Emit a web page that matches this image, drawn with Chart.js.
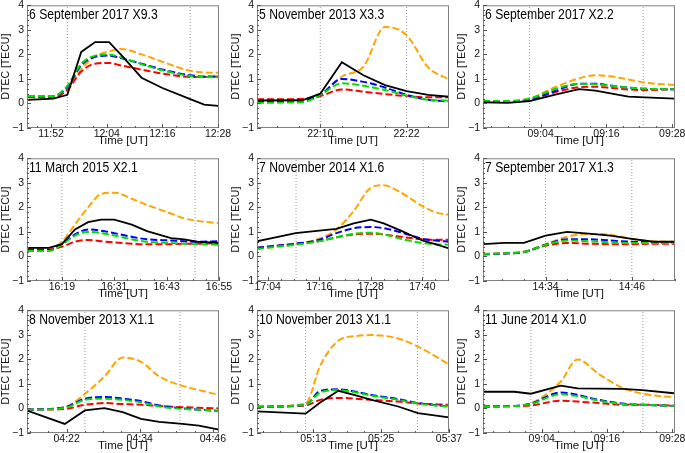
<!DOCTYPE html>
<html>
<head>
<meta charset="utf-8">
<script src="https://cdn.jsdelivr.net/npm/chart.js@4/dist/chart.umd.min.js"></script>
<style>
  html, body { margin: 0; padding: 0; background: #fff; overflow: hidden; }
  #wrap { position: relative; width: 685px; height: 453px; overflow: hidden; }
  canvas { position: absolute; }
</style>
</head>
<body>
<div id="wrap"></div>
<script>
// panel titles, left to right, top to bottom
const titles = [
  '6 September 2017 X9.3', '5 November 2013 X3.3', '6 September 2017 X2.2',
  '11 March 2015 X2.1', '7 November 2014 X1.6', '7 September 2017 X1.3',
  '8 November 2013 X1.1', '10 November 2013 X1.1', '11 June 2014 X1.0'
];

// x range of each panel (UT, minutes may be fractional)
const xMin = ['11:46.8', '22:01.2', '08:53.5', '16:11', '17:01.5', '14:25.3', '04:15.5', '05:03', '08:53.2'];
const xMax = ['12:28.2', '22:27.9', '09:28.5', '16:55', '17:46.2', '14:52', '04:47', '05:37', '09:28.5'];

const tickLabels = [
  ['11:52', '12:04', '12:16', '12:28'],
  ['22:10', '22:22'],
  ['09:04', '09:16', '09:28'],
  ['16:19', '16:31', '16:43', '16:55'],
  ['17:04', '17:16', '17:28', '17:40'],
  ['14:34', '14:46'],
  ['04:22', '04:34', '04:46'],
  ['05:13', '05:25', '05:37'],
  ['09:04', '09:16', '09:28']
];

// dotted vertical markers
const markers = [
  ['11:55.5', '12:22'], ['22:10', '22:22'], ['09:02', '09:22.7'],
  ['16:19', '16:49.5'], ['17:10.6', '17:40.2'], ['14:34', '14:46'],
  ['04:25', '04:40.6'], ['05:11.6', '05:31.4'], ['09:02', '09:22.6']
];

const times = [
  ['11:47', '11:52.5', '11:55.5', '11:58.5', '12:01.5', '12:04.5', '12:07', '12:11.5', '12:16', '12:22', '12:25', '12:28'],
  ['22:01.2', '22:07.5', '22:10', '22:13', '22:16', '22:19', '22:22', '22:25', '22:28'],
  ['08:53.5', '08:58', '09:02', '09:06.5', '09:11', '09:14', '09:17', '09:20', '09:23', '09:28.5'],
  ['16:11', '16:16', '16:19', '16:22', '16:25', '16:28', '16:31', '16:35', '16:38.5', '16:44', '16:47', '16:50', '16:55'],
  ['17:01.5', '17:05', '17:10.5', '17:16', '17:20', '17:24', '17:28', '17:31', '17:35', '17:40', '17:43', '17:46.2'],
  ['14:25.3', '14:28.3', '14:31', '14:34', '14:37', '14:40', '14:43', '14:46', '14:49', '14:52'],
  ['04:15.5', '04:21.7', '04:25', '04:28.2', '04:31.2', '04:34.2', '04:37.2', '04:41', '04:43.7', '04:47'],
  ['05:03', '05:11.6', '05:14.2', '05:17.4', '05:20.5', '05:23.3', '05:28', '05:31.5', '05:37'],
  ['08:53.2', '08:59', '09:02', '09:07.5', '09:10.6', '09:14.5', '09:18.8', '09:22.5', '09:28.3']
];

const black = [
  [0.15, 0.2, 0.35, 2.1, 2.5, 2.5, 2.0, 1.05, 0.63, 0.18, -0.05, -0.1],
  [0.12, 0.13, 0.4, 1.68, 1.15, 0.75, 0.5, 0.35, 0.27],
  [0.05, 0.02, 0.1, 0.35, 0.58, 0.52, 0.4, 0.28, 0.25, 0.2],
  [0.35, 0.35, 0.5, 1.1, 1.4, 1.5, 1.5, 1.3, 1.03, 0.75, 0.7, 0.6, 0.55],
  [0.62, 0.75, 0.95, 1.05, 1.12, 1.35, 1.5, 1.35, 1.05, 0.65, 0.5, 0.33],
  [0.5, 0.55, 0.55, 0.85, 1.0, 0.93, 0.85, 0.72, 0.6, 0.6],
  [-0.09, -0.63, -0.08, 0.01, -0.15, -0.42, -0.55, -0.63, -0.7, -0.86],
  [-0.12, -0.21, 0.24, 0.72, 0.53, 0.35, 0.08, -0.19, -0.36],
  [0.68, 0.68, 0.6, 0.93, 0.82, 0.81, 0.8, 0.75, 0.62]
];

const orange = [
  [0.28, 0.28, 0.62, 1.4, 1.92, 2.12, 2.22, 2.0, 1.7, 1.33, 1.27, 1.25],
  [0.15, 0.17, 0.35, 1.1, 1.5, 3.12, 2.78, 1.47, 0.97],
  [0.1, 0.1, 0.2, 0.65, 1.02, 1.15, 1.1, 0.98, 0.85, 0.75],
  [0.3, 0.3, 0.6, 1.3, 2.0, 2.55, 2.6, 2.35, 2.1, 1.75, 1.55, 1.45, 1.35],
  [0.32, 0.38, 0.5, 0.72, 1.1, 1.85, 2.8, 2.9, 2.6, 2.05, 1.8, 1.7],
  [0.1, 0.13, 0.2, 0.5, 0.8, 0.92, 0.88, 0.72, 0.62, 0.6],
  [-0.05, 0.05, 0.6, 1.3, 2.08, 1.9, 1.3, 0.92, 0.75, 0.55],
  [0.07, 0.2, 1.75, 2.76, 2.95, 2.99, 2.85, 2.52, 1.8],
  [0.1, 0.1, 0.2, 1.1, 2.0, 1.4, 0.85, 0.6, 0.45]
];

const blue = [
  [0.3, 0.3, 0.68, 1.55, 1.9, 1.95, 1.85, 1.62, 1.38, 1.15, 1.1, 1.1],
  [0.1, 0.12, 0.35, 1.0, 0.88, 0.65, 0.35, 0.15, 0.08],
  [0.08, 0.08, 0.15, 0.5, 0.8, 0.8, 0.72, 0.65, 0.6, 0.58],
  [0.25, 0.25, 0.5, 0.9, 1.1, 1.05, 0.95, 0.8, 0.7, 0.65, 0.62, 0.6, 0.62],
  [0.35, 0.42, 0.52, 0.68, 0.95, 1.15, 1.2, 1.15, 0.98, 0.72, 0.65, 0.6],
  [0.08, 0.12, 0.18, 0.48, 0.7, 0.7, 0.65, 0.6, 0.58, 0.58],
  [-0.05, 0.05, 0.4, 0.47, 0.4, 0.3, 0.12, 0.0, -0.05, -0.1],
  [0.07, 0.15, 0.72, 0.78, 0.68, 0.55, 0.38, 0.22, 0.08],
  [0.08, 0.1, 0.2, 0.65, 0.55, 0.35, 0.2, 0.15, 0.1]
];

const green = [
  [0.3, 0.3, 0.72, 1.62, 1.95, 2.0, 1.88, 1.6, 1.35, 1.12, 1.08, 1.07],
  [0.03, 0.05, 0.35, 0.82, 0.72, 0.55, 0.32, 0.15, 0.12],
  [0.1, 0.1, 0.2, 0.58, 0.8, 0.78, 0.72, 0.65, 0.6, 0.58],
  [0.22, 0.22, 0.48, 0.85, 1.0, 0.95, 0.85, 0.7, 0.6, 0.55, 0.52, 0.5, 0.48],
  [0.3, 0.38, 0.48, 0.62, 0.78, 0.92, 0.97, 0.9, 0.72, 0.55, 0.5, 0.48],
  [0.1, 0.13, 0.18, 0.47, 0.65, 0.62, 0.58, 0.55, 0.55, 0.55],
  [-0.05, 0.02, 0.35, 0.4, 0.35, 0.25, 0.08, -0.02, -0.05, -0.1],
  [0.07, 0.15, 0.65, 0.75, 0.65, 0.52, 0.35, 0.2, 0.07],
  [0.08, 0.1, 0.18, 0.58, 0.5, 0.32, 0.18, 0.15, 0.1]
];

const red = [
  [0.25, 0.25, 0.55, 1.3, 1.62, 1.65, 1.55, 1.38, 1.22, 1.08, 1.08, 1.1],
  [0.17, 0.18, 0.3, 0.57, 0.48, 0.38, 0.3, 0.25, 0.25],
  [0.08, 0.08, 0.15, 0.45, 0.66, 0.68, 0.63, 0.57, 0.55, 0.58],
  [0.28, 0.28, 0.4, 0.6, 0.67, 0.62, 0.57, 0.52, 0.5, 0.5, 0.52, 0.52, 0.55],
  [0.35, 0.42, 0.52, 0.63, 0.78, 0.9, 0.93, 0.9, 0.8, 0.7, 0.68, 0.68],
  [0.1, 0.12, 0.18, 0.44, 0.55, 0.52, 0.5, 0.5, 0.52, 0.52],
  [-0.05, -0.02, 0.15, 0.22, 0.18, 0.15, 0.1, 0.05, 0.03, 0.0],
  [0.07, 0.12, 0.35, 0.43, 0.4, 0.35, 0.28, 0.2, 0.15],
  [0.08, 0.1, 0.12, 0.32, 0.28, 0.22, 0.15, 0.15, 0.12]
];

const FONT = "'Liberation Sans', Arial, sans-serif";
Chart.defaults.font.family = FONT;
Chart.defaults.color = '#111';

// "HH:MM" or "HH:MM.m" -> minutes of day
function toMin(s) {
  const p = s.split(':');
  return parseInt(p[0], 10) * 60 + parseFloat(p[1]);
}

// frame, inward ticks and the in-plot title
const framePlugin = {
  id: 'frame',
  afterDatasetsDraw(chart, args, opts) {
    const { ctx, chartArea: a, scales: { x, y } } = chart;
    ctx.save();
    ctx.strokeStyle = '#808080';
    ctx.lineWidth = 1;
    ctx.strokeRect(a.left + 0.5, a.top + 0.5, a.width - 1, a.height - 1);

    ctx.strokeStyle = '#555';
    ctx.beginPath();
    // y ticks
    for (let v = -1; v <= 4.001; v += 0.2) {
      const py = Math.round(y.getPixelForValue(v)) + 0.5;
      const major = Math.abs(v - Math.round(v)) < 1e-6;
      const len = major ? 4 : 2;
      ctx.moveTo(a.left, py); ctx.lineTo(a.left + len, py);
    }
    // x ticks
    const first = toMin(opts.ticks[0]);
    for (let t = first - 36; t <= x.max + 0.01; t += 3) {
      if (t < x.min - 0.01) continue;
      const px = Math.round(x.getPixelForValue(t)) + 0.5;
      const major = Math.abs(((t - first) % 12 + 12) % 12) < 1e-6;
      const len = major ? 4 : 2;
      ctx.moveTo(px, a.bottom); ctx.lineTo(px, a.bottom - len);
    }
    ctx.stroke();

    ctx.fillStyle = '#000';
    ctx.font = '14.5px ' + FONT;
    ctx.textBaseline = 'alphabetic';
    const w = ctx.measureText(opts.title).width;
    ctx.fillText(opts.title, a.left + 2, a.top + 14, w * 0.84);
    ctx.restore();
  }
};

const colLeft = [27, 257, 483];
const rowTop = [4, 157, 309];
const wrap = document.getElementById('wrap');

function dashed(label, vals, tt, color) {
  return {
    label: label,
    data: tt.map((t, j) => ({ x: t, y: vals[j] })),
    borderColor: color,
    borderWidth: 2,
    borderDash: [7, 3],
    cubicInterpolationMode: 'monotone',
    pointRadius: 0,
    fill: false
  };
}

for (let i = 0; i < 9; i++) {
  const c = i % 3, r = Math.floor(i / 3);
  const cv = document.createElement('canvas');
  cv.width = 237; cv.height = 152;
  cv.style.left = (colLeft[c] - 27) + 'px';
  cv.style.top = (rowTop[r] - 8) + 'px';
  cv.style.width = '237px'; cv.style.height = '152px';
  wrap.appendChild(cv);

  const tt = times[i].map(toMin);
  const labels = tickLabels[i];

  const datasets = [
    {
      label: 'black',
      data: tt.map((t, j) => ({ x: t, y: black[i][j] })),
      borderColor: '#000',
      borderWidth: 1.8,
      pointRadius: 0,
      tension: 0,
      fill: false
    },
    dashed('green', green[i], tt, '#00e000'),
    dashed('blue', blue[i], tt, '#0000ff'),
    dashed('red', red[i], tt, '#ff0000'),
    dashed('orange', orange[i], tt, '#ffa500')
  ];
  markers[i].forEach(m => {
    datasets.push({
      label: 'marker',
      data: [{ x: toMin(m), y: -1 }, { x: toMin(m), y: 4 }],
      borderColor: '#9a9a9a',
      borderWidth: 1,
      borderDash: [1, 2],
      pointRadius: 0
    });
  });

  new Chart(cv, {
    type: 'line',
    data: { datasets: datasets },
    options: {
      responsive: false,
      animation: false,
      devicePixelRatio: 1,
      layout: { padding: { top: 8, right: 18, left: 0, bottom: 0 } },
      plugins: {
        legend: { display: false },
        tooltip: { enabled: false },
        frame: { title: titles[i], ticks: labels }
      },
      scales: {
        x: {
          type: 'linear',
          min: toMin(xMin[i]),
          max: toMin(xMax[i]),
          grid: { display: false, drawTicks: false },
          border: { display: false },
          afterBuildTicks: s => { s.ticks = labels.map(l => ({ value: toMin(l) })); },
          afterFit: s => { s.height = 20; },
          ticks: {
            autoSkip: false,
            maxRotation: 0,
            padding: 0,
            font: { size: 10.5 },
            color: '#111',
            callback: (v, k) => labels[k]
          },
          title: { display: true, text: 'Time [UT]', font: { size: 11.5 }, padding: 0, color: '#111' }
        },
        y: {
          min: -1,
          max: 4,
          grid: { display: false, drawTicks: false },
          border: { display: false },
          afterFit: s => { s.width = 27; },
          ticks: {
            stepSize: 1,
            padding: 3,
            font: { size: 10.5 },
            color: '#111',
            callback: v => (v < 0 ? '\u2212' + Math.abs(v) : String(v))
          },
          title: { display: true, text: 'DTEC [TECU]', font: { size: 10.5 }, padding: 0, color: '#111' }
        }
      }
    },
    plugins: [framePlugin]
  });
}
</script>
</body>
</html>
